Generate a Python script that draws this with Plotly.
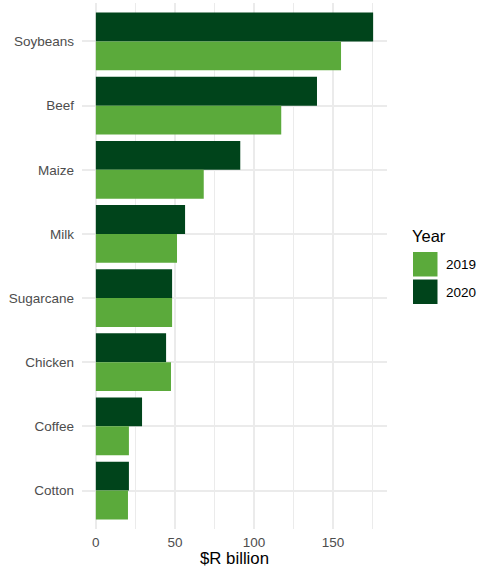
import plotly.graph_objects as go

categories = ["Soybeans", "Beef", "Maize", "Milk", "Sugarcane", "Chicken", "Coffee", "Cotton"]
values_2019 = [155.0, 117.2, 68.2, 51.3, 48.2, 47.5, 20.9, 20.3]
values_2020 = [175.3, 139.8, 91.3, 56.4, 48.2, 44.4, 29.2, 20.9]
years = ["2019", "2020"]
colors = {"2019": "#5BAA3B", "2020": "#00441B"}

W, H = 480, 571
L, R, T, B = 82, 93, 3, 42
pw, ph = W - L - R, H - T - B

def px_x(x):
    return (x - L) / pw

def px_y(y):
    return (H - B - y) / ph

fig = go.Figure()
# 2020 first so it sits on top within each group on the reversed axis
fig.add_trace(go.Bar(y=categories, x=values_2020, orientation="h", name="2020",
                     marker=dict(color=colors["2020"], line=dict(width=0)), showlegend=False))
fig.add_trace(go.Bar(y=categories, x=values_2019, orientation="h", name="2019",
                     marker=dict(color=colors["2019"], line=dict(width=0)), showlegend=False))

xmax = max(values_2020 + values_2019)
pad = 0.05 * xmax

fig.update_layout(
    width=W, height=H,
    margin=dict(l=L, r=R, t=T, b=B, autoexpand=False),
    paper_bgcolor="white", plot_bgcolor="white",
    barmode="group", bargap=0.1, bargroupgap=0,
    font=dict(family="Liberation Sans, Arial, sans-serif"),
    xaxis=dict(
        range=[-pad, xmax + pad],
        tickvals=[0, 50, 100, 150],
        showgrid=True, gridcolor="#EBEBEB", gridwidth=1.7,
        minor=dict(tickvals=[25, 75, 125, 175], showgrid=True, gridcolor="#EBEBEB", gridwidth=0.9),
        zeroline=False, showline=False,
        tickfont=dict(size=13.5, color="#4D4D4D"),
        ticks="", ticklabelstandoff=3,
        title=dict(text="$R billion", font=dict(size=16.8, color="black"), standoff=1),
    ),
    yaxis=dict(
        categoryorder="array", categoryarray=categories,
        range=[len(categories) - 0.4, -0.6],
        showgrid=True, gridcolor="#EBEBEB", gridwidth=1.7,
        zeroline=False, showline=False,
        tickfont=dict(size=13.5, color="#4D4D4D"),
        ticks="", ticklabelstandoff=7,
    ),
)

# Manual legend (ggplot-style)
fig.add_annotation(text="Year", xref="paper", yref="paper", x=px_x(410), y=px_y(236),
                   xanchor="left", yanchor="middle", showarrow=False,
                   font=dict(size=16.5, color="black"))
key_tops = {"2019": 252, "2020": 279.5}
for yr in years:
    top = key_tops[yr]
    fig.add_shape(type="rect", xref="paper", yref="paper",
                  x0=px_x(413), x1=px_x(437.5), y0=px_y(top + 24.5), y1=px_y(top),
                  fillcolor=colors[yr], line=dict(width=0))
    fig.add_annotation(text=yr, xref="paper", yref="paper", x=px_x(444), y=px_y(top + 12.5),
                       xanchor="left", yanchor="middle", showarrow=False,
                       font=dict(size=13.5, color="black"))

fig.write_html("out.html", config={"displayModeBar": False},
               post_script="document.body.style.margin='0';")
